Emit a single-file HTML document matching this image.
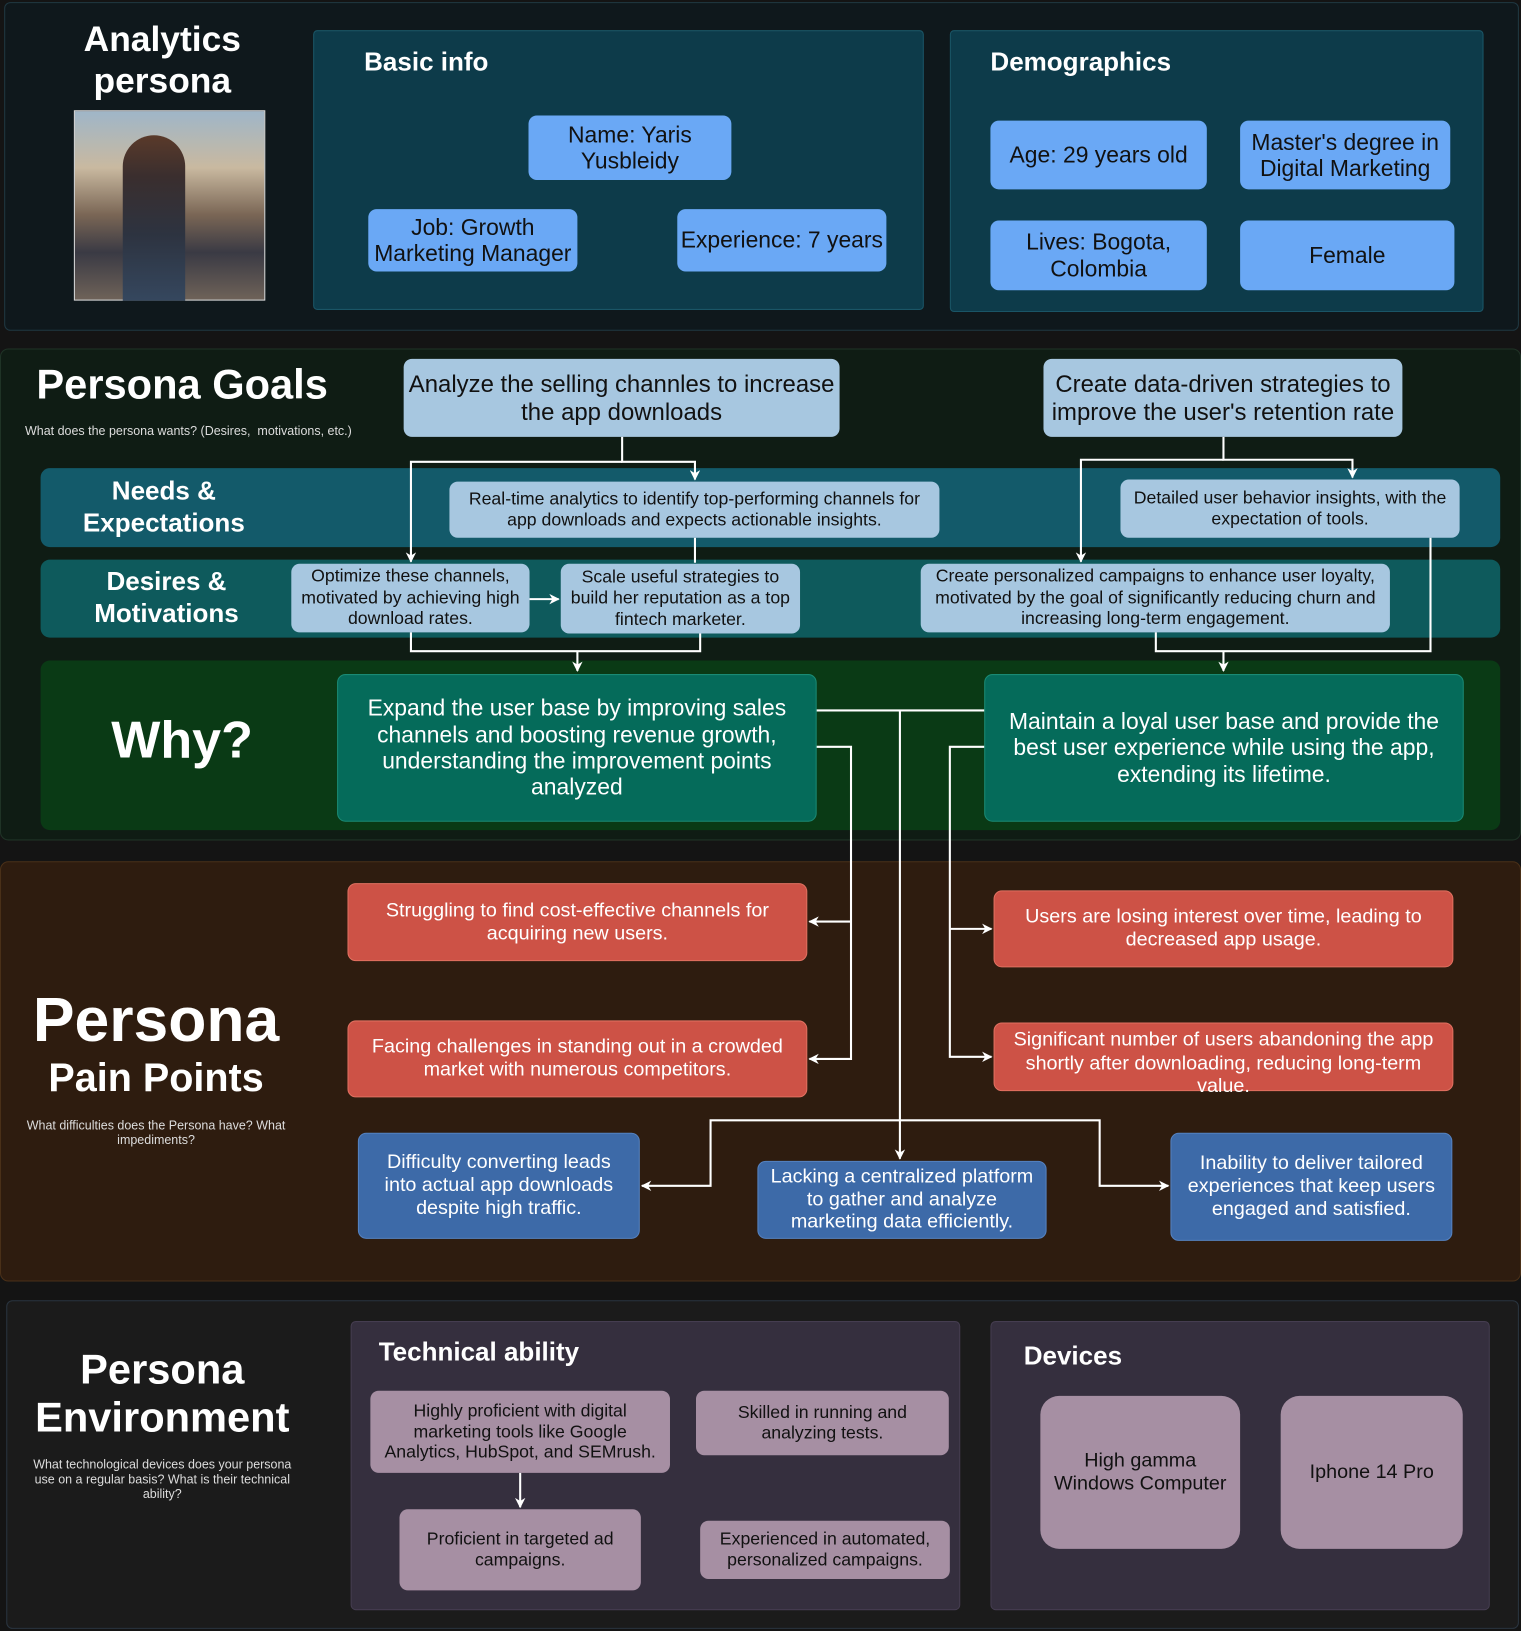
<!DOCTYPE html>
<html><head><meta charset="utf-8"><style>
*{margin:0;padding:0;box-sizing:border-box}
body{width:1521px;height:1631px;background:#141414;overflow:hidden;font-family:"Liberation Sans Narrow","Liberation Sans","DejaVu Sans Condensed",sans-serif}
#w{position:absolute;left:0;top:0;width:1462px;height:1568px;transform:scale(1.04036,1.04018);transform-origin:0 0}
.a{position:absolute}
.b{position:absolute;display:flex;align-items:center;justify-content:center;text-align:center;border-radius:8px;line-height:1.15}
.lb{background:#6aa8f5;color:#111;font-size:22px}
.gb{background:#a7c7e0;color:#111}
.red{background:#cd5246;color:#fff;font-size:19px;border:1px solid #e07060}
.blu{background:#3d6aa8;color:#fff;font-size:19px;border:1px solid #5582c0}
.pur{background:#a68fa3;color:#111;font-size:17px}
.t{position:absolute;color:#fff;font-weight:bold;text-align:center}
svg{position:absolute;left:0;top:0}
</style></head><body><div id="w">
<!-- section 1 -->
<div class="a" style="left:4px;top:2px;width:1456px;height:316px;background:#0f181c;border:1px solid #1f3842;border-radius:6px"></div>
<div class="t" style="left:46px;top:18px;width:220px;font-size:34px;line-height:40px">Analytics<br>persona</div>
<div class="a" style="left:71px;top:106px;width:184px;height:183px;background:linear-gradient(180deg,#9fb6c8 0%,#c9b9a0 30%,#7a6655 55%,#3a3a44 75%,#6e6258 100%);border:1px solid #ddd"></div>
<div class="a" style="left:118px;top:130px;width:60px;height:159px;background:linear-gradient(180deg,#5a3a2a 0%,#3a2e2e 25%,#2d3340 60%,#35475e 100%);border-radius:30px 30px 0 0"></div>
<div class="a" style="left:301px;top:29px;width:587px;height:269px;background:#0d3b4a;border:1px solid #1a5566;border-radius:4px"></div>
<div class="t" style="left:350px;top:46px;font-size:25px;text-align:left">Basic info</div>
<div class="b lb" style="left:508px;top:111px;width:195px;height:62px">Name: Yaris<br>Yusbleidy</div>
<div class="b lb" style="left:354px;top:201px;width:201px;height:60px">Job: Growth<br>Marketing Manager</div>
<div class="b lb" style="left:651px;top:201px;width:201px;height:60px">Experience: 7 years</div>
<div class="a" style="left:913px;top:29px;width:513px;height:271px;background:#0d3b4a;border:1px solid #1a5566;border-radius:4px"></div>
<div class="t" style="left:952px;top:46px;font-size:25px;text-align:left">Demographics</div>
<div class="b lb" style="left:952px;top:116px;width:208px;height:66px">Age: 29 years old</div>
<div class="b lb" style="left:1192px;top:116px;width:202px;height:66px">Master's degree in<br>Digital Marketing</div>
<div class="b lb" style="left:952px;top:212px;width:208px;height:67px">Lives: Bogota,<br>Colombia</div>
<div class="b lb" style="left:1192px;top:212px;width:206px;height:67px">Female</div>
<!-- section 2 -->
<div class="a" style="left:0;top:335px;width:1462px;height:473px;background:#0f1c14;border:1px solid #1f3326;border-radius:8px"></div>
<div class="t" style="left:35px;top:348px;font-size:40px;text-align:left">Persona Goals</div>
<div class="a" style="left:24px;top:407px;color:#ddd;font-size:12px">What does the persona wants? (Desires,&nbsp; motivations, etc.)</div>
<div class="a" style="left:39px;top:450px;width:1403px;height:76px;background:#135a6a;border-radius:9px"></div>
<div class="a" style="left:39px;top:538px;width:1403px;height:75px;background:#0e5a5c;border-radius:9px"></div>
<div class="a" style="left:39px;top:635px;width:1403px;height:163px;background:#0a3a15;border-radius:9px"></div>
<div class="t" style="left:60px;top:457px;width:195px;font-size:25px;line-height:31px">Needs &amp;<br>Expectations</div>
<div class="t" style="left:60px;top:544px;width:200px;font-size:25px;line-height:31px">Desires &amp;<br>Motivations</div>
<div class="t" style="left:70px;top:682px;width:210px;font-size:50px">Why?</div>
<div class="b gb" style="left:388px;top:345px;width:419px;height:75px;font-size:23px">Analyze the selling channles to increase<br>the app downloads</div>
<div class="b gb" style="left:1003px;top:345px;width:345px;height:75px;font-size:23px">Create data-driven strategies to<br>improve the user's retention rate</div>
<div class="b gb" style="left:432px;top:463px;width:471px;height:54px;font-size:17px">Real-time analytics to identify top-performing channels for<br>app downloads and expects actionable insights.</div>
<div class="b gb" style="left:1077px;top:461px;width:326px;height:56px;font-size:17px">Detailed user behavior insights, with the<br>expectation of tools.</div>
<div class="b gb" style="left:280px;top:542px;width:229px;height:66px;font-size:17px;line-height:1.2">Optimize these channels,<br>motivated by achieving high<br>download rates.</div>
<div class="b gb" style="left:539px;top:542px;width:230px;height:67px;font-size:17px;line-height:1.2">Scale useful strategies to<br>build her reputation as a top<br>fintech marketer.</div>
<div class="b gb" style="left:885px;top:542px;width:451px;height:66px;font-size:17px;line-height:1.2">Create personalized campaigns to enhance user loyalty,<br>motivated by the goal of significantly reducing churn and<br>increasing long-term engagement.</div>
<div class="b" style="left:324px;top:648px;width:461px;height:142px;background:#056b5a;color:#fff;font-size:22px;border:1px solid #1a8a74">Expand the user base by improving sales<br>channels and boosting revenue growth,<br>understanding the improvement points<br>analyzed</div>
<div class="b" style="left:946px;top:648px;width:461px;height:142px;background:#056b5a;color:#fff;font-size:22px;border:1px solid #1a8a74">Maintain a loyal user base and provide the<br>best user experience while using the app,<br>extending its lifetime.</div>
<!-- section 3 -->
<div class="a" style="left:0;top:828px;width:1462px;height:404px;background:#2e1c0f;border:1px solid #4a3018;border-radius:8px"></div>
<div class="t" style="left:20px;top:948px;width:260px;font-size:60px;line-height:66px">Persona</div>
<div class="t" style="left:20px;top:1016px;width:260px;font-size:38px">Pain Points</div>
<div class="a" style="left:25px;top:1075px;width:250px;color:#ddd;font-size:12px;text-align:center">What difficulties does the Persona have? What impediments?</div>
<div class="b red" style="left:334px;top:849px;width:442px;height:75px">Struggling to find cost-effective channels for<br>acquiring new users.</div>
<div class="b red" style="left:334px;top:981px;width:442px;height:74px">Facing challenges in standing out in a crowded<br>market with numerous competitors.</div>
<div class="b red" style="left:955px;top:856px;width:442px;height:74px">Users are losing interest over time, leading to<br>decreased app usage.</div>
<div class="b red" style="left:955px;top:983px;width:442px;height:66px;line-height:1.2;padding-top:14px">Significant number of users abandoning the app<br>shortly after downloading, reducing long-term<br>value.</div>
<div class="b blu" style="left:344px;top:1089px;width:271px;height:102px">Difficulty converting leads<br>into actual app downloads<br>despite high traffic.</div>
<div class="b blu" style="left:728px;top:1116px;width:278px;height:75px">Lacking a centralized platform<br>to gather and analyze<br>marketing data efficiently.</div>
<div class="b blu" style="left:1125px;top:1089px;width:271px;height:104px">Inability to deliver tailored<br>experiences that keep users<br>engaged and satisfied.</div>
<!-- section 4 -->
<div class="a" style="left:6px;top:1250px;width:1454px;height:316px;background:#1b1b1b;border:1px solid #2a3540;border-radius:6px"></div>
<div class="t" style="left:20px;top:1294px;width:272px;font-size:40px;line-height:46px">Persona<br>Environment</div>
<div class="a" style="left:30px;top:1401px;width:252px;color:#ddd;font-size:12px;text-align:center;line-height:14px">What technological devices does your persona use on a regular basis? What is their technical ability?</div>
<div class="a" style="left:337px;top:1270px;width:586px;height:278px;background:#352f3e;border:1px solid #453d50;border-radius:5px"></div>
<div class="t" style="left:364px;top:1286px;font-size:25px;text-align:left">Technical ability</div>
<div class="b pur" style="left:356px;top:1337px;width:288px;height:79px">Highly proficient with digital<br>marketing tools like Google<br>Analytics, HubSpot, and SEMrush.</div>
<div class="b pur" style="left:669px;top:1337px;width:243px;height:62px">Skilled in running and<br>analyzing tests.</div>
<div class="b pur" style="left:384px;top:1451px;width:232px;height:78px">Proficient in targeted ad<br>campaigns.</div>
<div class="b pur" style="left:673px;top:1462px;width:240px;height:56px">Experienced in automated,<br>personalized campaigns.</div>
<div class="a" style="left:952px;top:1270px;width:480px;height:278px;background:#352f3e;border:1px solid #453d50;border-radius:5px"></div>
<div class="t" style="left:984px;top:1290px;font-size:25px;text-align:left">Devices</div>
<div class="b pur" style="left:1000px;top:1342px;width:192px;height:147px;font-size:19px;border-radius:18px">High gamma<br>Windows Computer</div>
<div class="b pur" style="left:1231px;top:1342px;width:175px;height:147px;font-size:19px;border-radius:18px">Iphone 14 Pro</div>
<svg width="1462" height="1568" viewBox="0 0 1462 1568">
<defs><marker id="ar" markerWidth="10" markerHeight="10" refX="9" refY="5" orient="auto" markerUnits="userSpaceOnUse"><path d="M0,0 L10,5 L0,10 L3,5 z" fill="#fff"/></marker></defs>
<g fill="none" stroke="#fff" stroke-width="2">
<path d="M598,420 V444 H668 V461" marker-end="url(#ar)"/>
<path d="M598,444 H395 V540" marker-end="url(#ar)"/>
<path d="M668,517 V541"/>
<path d="M509,576 H537" marker-end="url(#ar)"/>
<path d="M395,608 V626 H673 V609"/>
<path d="M555,626 V645" marker-end="url(#ar)"/>
<path d="M1176,420 V442 H1300 V459" marker-end="url(#ar)"/>
<path d="M1176,442 H1039 V540" marker-end="url(#ar)"/>
<path d="M1111,608 V626 H1375 V517"/>
<path d="M1176,626 V645" marker-end="url(#ar)"/>
<path d="M785,683 H946"/>
<path d="M865,683 V1114" marker-end="url(#ar)"/>
<path d="M785,718 H818 V1018 H778" marker-end="url(#ar)"/>
<path d="M818,886 H778" marker-end="url(#ar)"/>
<path d="M946,718 H913 V1016 H953" marker-end="url(#ar)"/>
<path d="M913,893 H953" marker-end="url(#ar)"/>
<path d="M865,1077 H683 V1140 H617" marker-end="url(#ar)"/>
<path d="M865,1077 H1057 V1140 H1123" marker-end="url(#ar)"/>
<path d="M500,1416 V1449" marker-end="url(#ar)"/>
</g></svg>
</div></body></html>
